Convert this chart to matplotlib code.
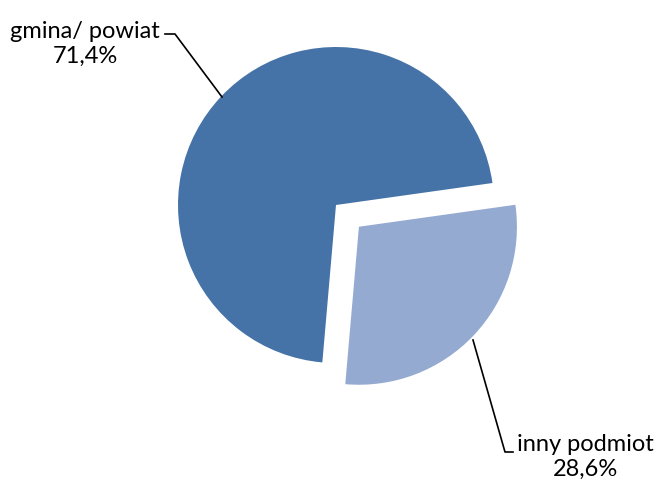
import matplotlib
matplotlib.use("Agg")
import matplotlib.pyplot as plt

labels = ["inny podmiot", "gmina/ powiat"]
values = [28.6, 71.4]
value_labels = ["28,6%", "71,4%"]
colors = ["#95AAD1", "#4573A7"]
explode_frac = [0.2, 0.0]

W, H = 660, 486
R = 158
fig = plt.figure(figsize=(6.6, 4.86), dpi=100)
ax = fig.add_axes([0, 0, 1, 1])

ax.pie(values, colors=colors, explode=[e * R for e in explode_frac], startangle=8,
       counterclock=False, center=(336, H - 205), radius=R,
       wedgeprops=dict(linewidth=0), frame=True)
ax.set_xlim(0, W)
ax.set_ylim(0, H)
ax.set_aspect("equal")
ax.axis("off")

font = dict(family=["Lato", "DejaVu Sans"], fontsize=17, color="black", ha="center", va="center")
ax.text(85, H - 44, f"{labels[1]}\n{value_labels[1]}", linespacing=1.2, **font)
ax.text(585, H - 457, f"{labels[0]}\n{value_labels[0]}", linespacing=1.2, **font)

ax.plot([165, 175, 222], [H - 34, H - 34, H - 97], color="black", lw=1.2)
ax.plot([473, 505, 513], [H - 340, H - 452, H - 452], color="black", lw=1.2)

fig.savefig("out.png", dpi=100)
